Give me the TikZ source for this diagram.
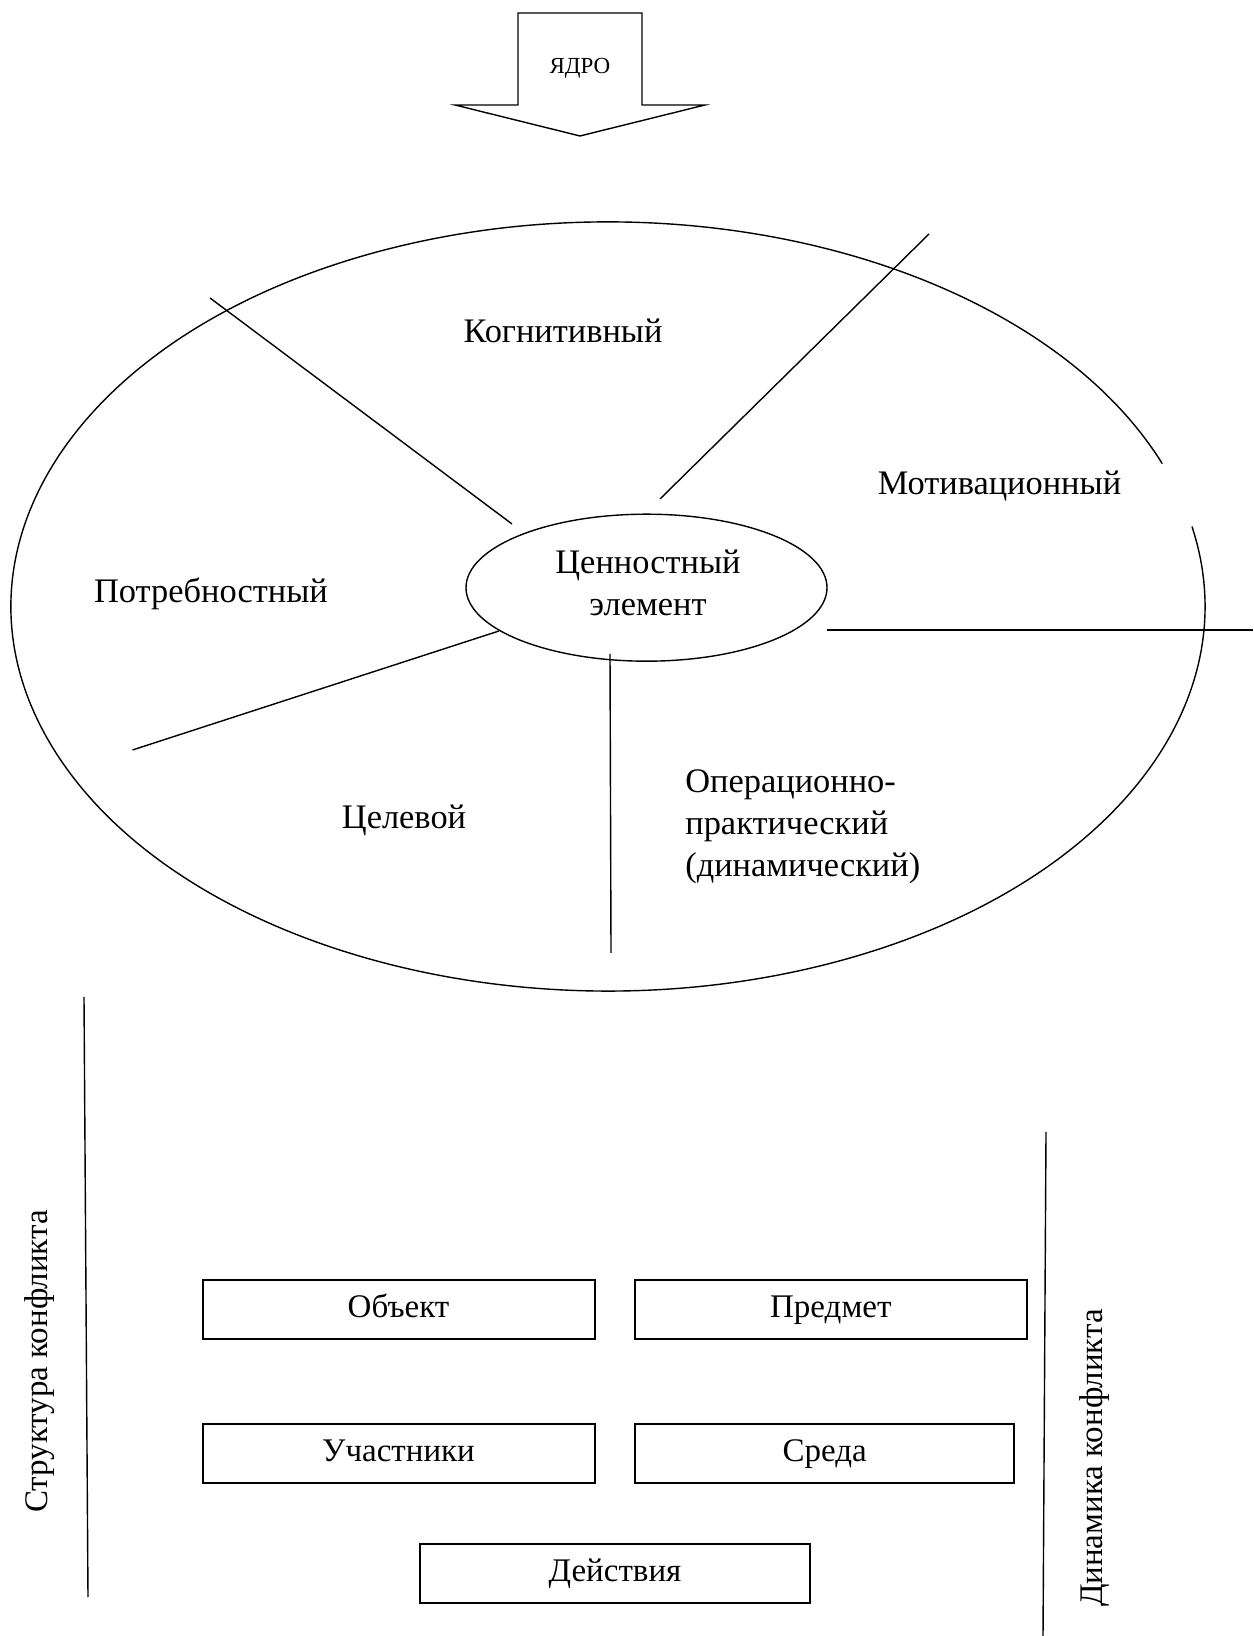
\documentclass[tikz,border=0pt]{standalone}
\usepackage{fontspec}
\setmainfont{Liberation Serif}
\tikzset{
  lbl/.style={font=\fontsize{17.2}{21}\selectfont},
  side/.style={rotate=90, font=\fontsize{16.5}{21}\selectfont},
  box/.style={draw, line width=1pt, minimum width=196pt, minimum height=29.5pt,
              inner sep=0pt, text height=11.5pt, text depth=3.5pt,
              font=\fontsize{16.5}{21}\selectfont},
}
\begin{document}
\begin{tikzpicture}[x=0.5pt, y=0.5pt, line width=0.7pt]
\useasboundingbox (0,0) rectangle (1253,1636);

% arrow on top
\draw (518,1623) -- (642,1623) -- (642,1531) -- (705,1531)
   -- (580,1500) -- (455,1531) -- (518,1531) -- cycle;
\node [font=\fontsize{11.5}{14}\selectfont] (core) at (580,1568) {ЯДРО};

%%%%%%%%%%%%%%%%%%%%%%%%%%%%%%%%%%%%%%%%

\path (608,1029.5) coordinate (centre);
\draw ([shift={(21.8:597 and 384.5)}]centre)
   arc [start angle=21.8, end angle=372, x radius=597, y radius=384.5];
\draw (646.5,1048.3) ellipse [x radius=180.5, y radius=73.5];
\node [lbl, align=center] (value) at (648,1053) {Ценностный\\элемент};

\path (210,1338) coordinate (a1) (512,1112) coordinate (a2);
\path (660,1137) coordinate (b1) (929,1402) coordinate (b2);
\path (827,1006) coordinate (c1) (1253,1006) coordinate (c2);
\path (132.5,886) coordinate (d1) (499,1005) coordinate (d2);
\path (610,982) coordinate (e1) (611,683) coordinate (e2);
\draw (a1) -- (a2);
\draw (b1) -- (b2);
\draw (c1) -- (c2);
\draw (d1) -- (d2);
\draw (e1) -- (e2);

\node [lbl] (cogn) at (563,1305) {Когнитивный};
\node [lbl] (motiv) at (999.5,1150) {Мотивационный};
\node [lbl] (need) at (211,1042) {Потребностный};
\node [lbl] (goal) at (404,816) {Целевой};
\node [lbl, anchor=west, align=left] (oper) at (678,809)
  {Операционно-\\практический\\(динамический)};

%%%%%%%%%%%%%%%%%%%%%%%%%%%%%%%%%%%%%%%%

\path (84,639) coordinate (s1) (88,39) coordinate (s2);
\path (1046,504) coordinate (t1) (1043,0) coordinate (t2);
\draw (s1) -- (s2);
\draw (t1) -- (t2);
\node [side] (struct) at (40,274.5) {Структура конфликта};
\node [side] (dyn) at (1095,178) {Динамика конфликта};

\node [box] (object) at (398.5,326.5) {Объект};
\node [box] (subject) at (830.8,326.5) {Предмет};
\node [box] (party) at (398.5,182.7) {Участники};
\node [box, minimum width=189.7pt] (env) at (824.7,182.7) {Среда};
\node [box, minimum width=195pt] (act) at (615,62.7) {Действия};
\end{tikzpicture}
\end{document}
